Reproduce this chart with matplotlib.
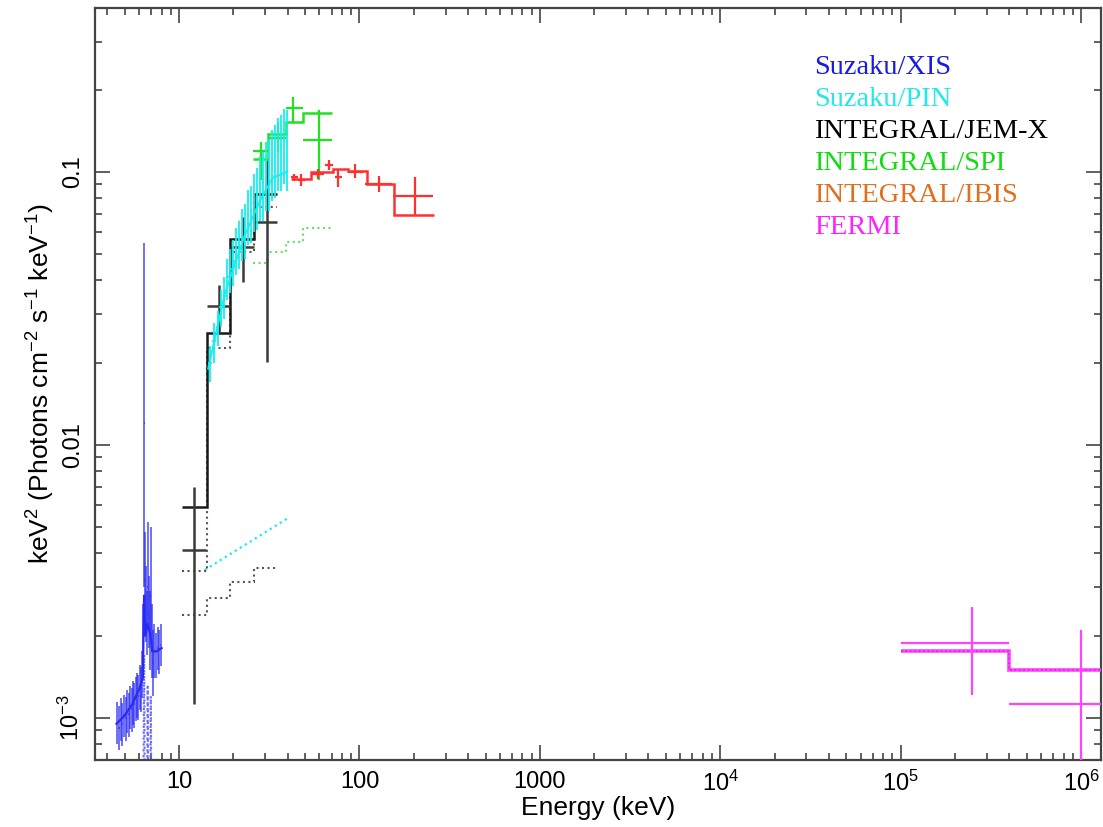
import matplotlib
matplotlib.use("Agg")
import matplotlib.pyplot as plt
from matplotlib import font_manager
from matplotlib.ticker import FixedLocator, FixedFormatter, LogLocator, NullFormatter

# ---------------- Suzaku/XIS ----------------
xis_energy = [4.55, 4.65, 4.75, 4.85, 4.95, 5.05, 5.15, 5.25, 5.35, 5.45, 5.55, 5.65,
              5.75, 5.85, 5.95, 6.05, 6.15, 6.25, 6.33, 6.40, 6.47, 6.55, 6.63, 6.70,
              6.78, 6.86, 6.95, 7.05, 7.15, 7.30, 7.45, 7.60, 7.75, 7.90]
xis_flux = [0.96e-3, 0.92e-3, 0.99e-3, 0.95e-3, 1.02e-3, 1.00e-3, 1.06e-3, 1.03e-3,
            1.10e-3, 1.08e-3, 1.14e-3, 1.12e-3, 1.18e-3, 1.22e-3, 1.20e-3, 1.30e-3,
            1.28e-3, 1.45e-3, 1.90e-3, 12.0e-3, 3.20e-3, 2.60e-3, 2.20e-3, 3.00e-3,
            2.40e-3, 2.10e-3, 2.80e-3, 1.90e-3, 1.60e-3, 1.75e-3, 1.70e-3, 1.80e-3,
            1.75e-3, 1.85e-3]
xis_low = [0.80e-3, 0.76e-3, 0.82e-3, 0.79e-3, 0.85e-3, 0.82e-3, 0.88e-3, 0.85e-3,
           0.91e-3, 0.89e-3, 0.94e-3, 0.92e-3, 0.97e-3, 1.00e-3, 0.98e-3, 1.07e-3,
           1.05e-3, 1.18e-3, 1.50e-3, 3.00e-3, 2.40e-3, 1.90e-3, 1.70e-3, 2.20e-3,
           1.80e-3, 1.50e-3, 2.00e-3, 1.40e-3, 1.20e-3, 1.40e-3, 1.40e-3, 1.50e-3,
           1.45e-3, 1.55e-3]
xis_high = [1.14e-3, 1.10e-3, 1.18e-3, 1.13e-3, 1.21e-3, 1.19e-3, 1.26e-3, 1.23e-3,
            1.31e-3, 1.29e-3, 1.36e-3, 1.34e-3, 1.41e-3, 1.46e-3, 1.43e-3, 1.56e-3,
            1.53e-3, 1.75e-3, 2.60e-3, 55.0e-3, 4.80e-3, 3.60e-3, 2.90e-3, 5.20e-3,
            3.30e-3, 2.90e-3, 5.00e-3, 2.60e-3, 2.10e-3, 2.20e-3, 2.05e-3, 2.15e-3,
            2.10e-3, 2.20e-3]
xis_model_energy = [4.5, 5.0, 5.5, 6.0, 6.3, 6.4, 6.5, 6.7, 6.95, 7.1, 7.5, 8.0]
xis_model_flux = [0.95e-3, 1.02e-3, 1.12e-3, 1.27e-3, 1.40e-3, 2.80e-3, 2.00e-3,
                  2.20e-3, 2.00e-3, 1.75e-3, 1.75e-3, 1.80e-3]
# narrow line components (dotted)
xis_line_energy = [[6.30, 6.40, 6.50], [6.62, 6.70, 6.78], [6.88, 6.97, 7.06]]
xis_line_flux = [[2.0e-4, 1.7e-3, 2.0e-4], [2.0e-4, 1.3e-3, 2.0e-4], [2.0e-4, 1.2e-3, 2.0e-4]]

# ---------------- Suzaku/PIN ----------------
pin_energy = [14.8, 15.6, 16.4, 17.1, 17.8, 18.5, 19.2, 20.0, 20.7, 21.5, 22.3, 23.2,
              24.1, 25.0, 26.0, 27.0, 28.1, 29.2, 30.3, 31.5, 32.8, 34.1, 35.4, 36.8,
              38.2, 39.7]
pin_flux = [0.020, 0.024, 0.027, 0.032, 0.035, 0.041, 0.044, 0.047, 0.052, 0.055,
            0.060, 0.062, 0.070, 0.072, 0.079, 0.082, 0.090, 0.092, 0.100, 0.102,
            0.110, 0.114, 0.122, 0.124, 0.132, 0.128]
pin_low = [0.017, 0.020, 0.023, 0.027, 0.029, 0.034, 0.036, 0.038, 0.042, 0.044,
           0.047, 0.048, 0.054, 0.055, 0.060, 0.061, 0.066, 0.066, 0.072, 0.072,
           0.078, 0.080, 0.085, 0.085, 0.090, 0.085]
pin_high = [0.023, 0.028, 0.031, 0.037, 0.041, 0.048, 0.052, 0.056, 0.062, 0.066,
            0.073, 0.076, 0.086, 0.089, 0.098, 0.103, 0.114, 0.118, 0.128, 0.132,
            0.142, 0.148, 0.158, 0.162, 0.170, 0.168]
pin_model_energy = [14.5, 18.0, 23.0, 28.0, 33.0, 39.7]
pin_model_flux = [0.019, 0.036, 0.058, 0.078, 0.095, 0.100]
pin_comp_energy = [13.9, 39.7]
pin_comp_flux = [3.48e-3, 5.36e-3]

# ---------------- INTEGRAL/JEM-X ----------------
jemx_energy = [12.1, 16.7, 22.7, 30.7]
jemx_elo = [10.4, 14.3, 19.2, 26.0]
jemx_ehi = [14.1, 19.2, 26.0, 35.0]
jemx_flux = [0.0041, 0.0323, 0.0531, 0.0656]
jemx_low = [0.00112, 0.0257, 0.0395, 0.0201]
jemx_high = [0.0070, 0.0386, 0.0685, 0.110]
jemx_edges = [10.4, 14.3, 19.2, 26.0, 35.0]
jemx_model = [0.0059, 0.0257, 0.0569, 0.0831]
jemx_comp_a = [0.00345, 0.0227, 0.051, 0.074]
jemx_comp_b = [0.00237, 0.00275, 0.00315, 0.00354]

# ---------------- INTEGRAL/SPI ----------------
spi_energy = [28.5, 35.4, 42.9, 59.6]
spi_edges = [25.7, 31.1, 39.2, 48.7, 70.6]
spi_flux = [0.1194, 0.133, 0.1715, 0.131]
spi_low = [0.0935, 0.118, 0.151, 0.0935]
spi_high = [0.129, 0.151, 0.188, 0.1687]
spi_model = [0.1116, 0.1378, 0.1524, 0.1645]
spi_comp = [0.0464, 0.0509, 0.0554, 0.0623]

# ---------------- INTEGRAL/IBIS ----------------
ibis_energy = [43.5, 47.5, 58.9, 67.8, 76.1, 94.5, 128.0, 203.0]
ibis_elo = [41.5, 45.5, 54.0, 64.5, 73.0, 86.5, 107.0, 154.0]
ibis_ehi = [45.5, 50.0, 64.0, 71.4, 80.0, 104.7, 152.0, 256.0]
ibis_flux = [0.0955, 0.0935, 0.098, 0.106, 0.0959, 0.100, 0.0904, 0.0817]
ibis_low = [0.0925, 0.089, 0.094, 0.1017, 0.0881, 0.095, 0.0845, 0.0692]
ibis_high = [0.0985, 0.098, 0.102, 0.1106, 0.1017, 0.107, 0.0967, 0.0959]
ibis_edges = [42.0, 54.0, 71.0, 86.0, 110.0, 155.0, 260.0]
ibis_model = [0.0943, 0.100, 0.1025, 0.1008, 0.0900, 0.0695]

# ---------------- FERMI ----------------
fermi_energy = [2.5e5, 1.0e6]
fermi_elo = [1.0e5, 4.0e5]
fermi_ehi = [4.0e5, 2.5e6]
fermi_flux = [1.88e-3, 1.125e-3]
fermi_low = [1.21e-3, 4.0e-4]
fermi_high = [2.55e-3, 2.10e-3]
fermi_edges = [1.0e5, 4.0e5, 2.5e6]
fermi_model = [1.75e-3, 1.49e-3]

legend_labels = ["Suzaku/XIS", "Suzaku/PIN", "INTEGRAL/JEM-X", "INTEGRAL/SPI",
                 "INTEGRAL/IBIS", "FERMI"]
legend_colors = ["#1a1ae6", "#22e8e8", "#000000", "#11dd11", "#e07020", "#ff22ff"]

x_ticks = [10, 100, 1000, 1e4, 1e5, 1e6]
x_ticklabels = ["10", "100", "1000", r"$10^4$", r"$10^5$", r"$10^6$"]
y_ticks = [1e-3, 0.01, 0.1]
y_ticklabels = [r"$10^{-3}$", "0.01", "0.1"]

# ---------------- fonts ----------------
available = {f.name for f in font_manager.fontManager.ttflist}
sans = "Liberation Sans Narrow" if "Liberation Sans Narrow" in available else "Liberation Sans"
plt.rcParams["font.family"] = [sans, "DejaVu Sans"]
plt.rcParams["mathtext.fontset"] = "custom"
plt.rcParams["mathtext.rm"] = sans
plt.rcParams["mathtext.it"] = sans
plt.rcParams["mathtext.bf"] = sans


def asym(center, low, high):
    return [[c - l for c, l in zip(center, low)], [h - c for c, h in zip(center, high)]]


fig = plt.figure(figsize=(11.03, 8.27), dpi=100)
ax = fig.add_axes([95 / 1103, 67 / 827, 1006 / 1103, 752 / 827])
ax.set_xscale("log")
ax.set_yscale("log")
ax.set_xlim(3.42, 1.29e6)
ax.set_ylim(7.0e-4, 0.398)

# XIS
xis_c = "#2a2af5"
ax.errorbar(xis_energy, xis_flux, yerr=asym(xis_flux, xis_low, xis_high),
            xerr=[[0.04] * len(xis_energy), [0.04] * len(xis_energy)],
            fmt="none", ecolor=xis_c, elinewidth=1.1, alpha=0.85, zorder=3)
ax.plot(xis_model_energy, xis_model_flux, color=xis_c, lw=1.6, zorder=3)
for le, lf in zip(xis_line_energy, xis_line_flux):
    ax.plot(le, lf, color="#6a6af5", lw=1.6, ls=":", zorder=2)

# PIN
pin_c = "#11f0f0"
ax.plot(pin_comp_energy, pin_comp_flux, color=pin_c, lw=1.6, ls=":", zorder=2)
ax.errorbar(pin_energy, pin_flux, yerr=asym(pin_flux, pin_low, pin_high),
            xerr=[[0.35] * len(pin_energy), [0.35] * len(pin_energy)],
            fmt="none", ecolor=pin_c, elinewidth=1.3, zorder=5)
ax.plot(pin_model_energy, pin_model_flux, color=pin_c, lw=1.4, zorder=5)

# JEM-X
jem_c = "#1a1a1a"
ax.stairs(jemx_comp_a, jemx_edges, baseline=None, color="#555555", lw=1.5, ls=":", zorder=2)
ax.stairs(jemx_comp_b, jemx_edges, baseline=None, color="#555555", lw=1.5, ls=":", zorder=2)
ax.stairs(jemx_model, jemx_edges, baseline=None, color=jem_c, lw=1.8, zorder=4)
ax.errorbar(jemx_energy, jemx_flux, yerr=asym(jemx_flux, jemx_low, jemx_high),
            xerr=asym(jemx_energy, jemx_elo, jemx_ehi),
            fmt="none", ecolor="#3a3a3a", elinewidth=1.8, zorder=4)

# SPI
spi_c = "#22e022"
ax.stairs(spi_comp, spi_edges, baseline=None, color="#66e066", lw=1.5, ls=":", zorder=2)
ax.stairs(spi_model, spi_edges, baseline=None, color=spi_c, lw=1.8, zorder=4)
ax.errorbar(spi_energy, spi_flux, yerr=asym(spi_flux, spi_low, spi_high),
            xerr=[[e - lo for e, lo in zip(spi_energy, spi_edges[:-1])],
                  [hi - e for e, hi in zip(spi_energy, spi_edges[1:])]],
            fmt="none", ecolor=spi_c, elinewidth=1.6, zorder=4)

# IBIS
ibis_c = "#ff3030"
ax.stairs(ibis_model, ibis_edges, baseline=None, color=ibis_c, lw=1.8, zorder=4)
ax.errorbar(ibis_energy, ibis_flux, yerr=asym(ibis_flux, ibis_low, ibis_high),
            xerr=asym(ibis_energy, ibis_elo, ibis_ehi),
            fmt="none", ecolor=ibis_c, elinewidth=1.6, zorder=4)

# FERMI
fermi_c = "#ff44ff"
ax.stairs(fermi_model, fermi_edges, baseline=None, color=fermi_c, lw=2.6, zorder=4)
ax.stairs(fermi_model, fermi_edges, baseline=None, color="#e020e0", lw=1.2, ls=":", zorder=4)
ax.errorbar(fermi_energy, fermi_flux, yerr=asym(fermi_flux, fermi_low, fermi_high),
            xerr=asym(fermi_energy, fermi_elo, fermi_ehi),
            fmt="none", ecolor=fermi_c, elinewidth=1.6, zorder=4)

# axes styling
frame_c = "#444444"
for s in ax.spines.values():
    s.set_color(frame_c)
    s.set_linewidth(1.6)
ax.xaxis.set_major_locator(FixedLocator(x_ticks))
ax.xaxis.set_major_formatter(FixedFormatter(x_ticklabels))
ax.xaxis.set_minor_locator(LogLocator(base=10, subs=range(2, 10), numticks=20))
ax.xaxis.set_minor_formatter(NullFormatter())
ax.yaxis.set_major_locator(FixedLocator(y_ticks))
ax.yaxis.set_major_formatter(FixedFormatter(y_ticklabels))
ax.yaxis.set_minor_locator(LogLocator(base=10, subs=range(2, 10), numticks=20))
ax.yaxis.set_minor_formatter(NullFormatter())
ax.tick_params(which="both", direction="in", top=True, right=True, color=frame_c,
               width=1.2, labelsize=17)
ax.tick_params(which="major", length=11)
ax.tick_params(which="minor", length=5)
ax.tick_params(axis="x", pad=8)
ax.tick_params(axis="y", pad=8)
for lbl in ax.get_yticklabels():
    lbl.set_rotation(90)
    lbl.set_va("center")

ax.set_xlabel("Energy (keV)", fontsize=19, labelpad=0)
ax.set_ylabel(r"keV$^2$ (Photons cm$^{-2}$ s$^{-1}$ keV$^{-1}$)", fontsize=19, labelpad=1)

# instrument key
for i, (txt, col) in enumerate(zip(legend_labels, legend_colors)):
    fig.text(814 / 1103, 1 - (67 + i * 32) / 827, txt, color=col, fontsize=20.5,
             family=["Liberation Serif", "DejaVu Serif"], va="center", ha="left")

fig.savefig("out.png", dpi=100)
